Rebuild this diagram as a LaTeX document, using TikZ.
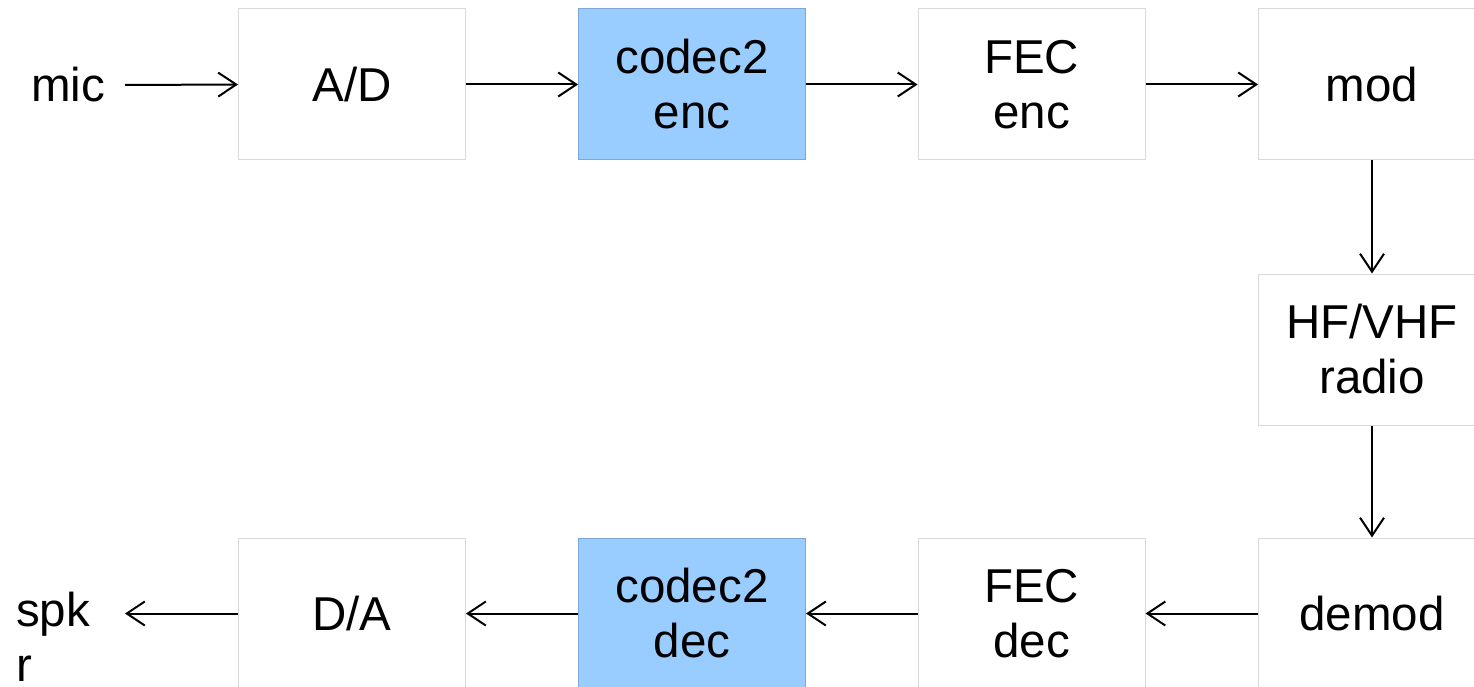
\documentclass[tikz,border=0pt]{standalone}
\usepackage{fontspec}
\setmainfont{Liberation Sans}
\usetikzlibrary{arrows.meta}
\definecolor{boxline}{HTML}{D9D9D9}
\definecolor{bluefill}{HTML}{99CCFF}
\definecolor{blueline}{HTML}{7FA7D6}
\tikzset{
  blk/.style={draw=boxline, line width=1pt, fill=white, minimum width=227pt, minimum height=151pt, inner sep=0pt, align=center, font=\fontsize{47.5}{55}\selectfont},
  hot/.style={blk, draw=blueline, fill=bluefill},
  lbl/.style={inner sep=0pt, font=\fontsize{47.5}{55}\selectfont},
  flow/.style={-{Straight Barb[length=18pt,width=24pt,line width=2pt]}, line width=2pt, black}
}
\begin{document}
\begin{tikzpicture}[x=1pt,y=-1pt]
\clip (0,0) rectangle (1474,687);
\fill[white] (0,0) rectangle (1474,687);
% top row
\node[blk] (ad) at (352,84.5) {A/D};
\node[hot] (cenc) at (692,84.5) {codec2\\enc};
\node[blk] (fenc) at (1031.5,84.5) {FEC\\enc};
\node[blk] (mod) at (1372,84.5) {mod};
% radio
\node[blk] (radio) at (1372,349.5) {HF/VHF\\radio};
% bottom row
\node[blk] (demod) at (1372,613.5) {demod};
\node[blk] (fdec) at (1031.5,613.5) {FEC\\dec};
\node[hot] (cdec) at (692,613.5) {codec2\\dec};
\node[blk] (da) at (352,613.5) {D/A};
% end labels
\node[lbl, anchor=base] (mic) at (68,102) {mic};
\node[lbl, align=left, anchor=north west] (spkr) at (16,592) {spk\\r};
\coordinate (micend) at (125,85);
\coordinate (spkend) at (125,613.5);
% connectors
\draw[flow] (micend) -- (ad.west);
\draw[flow] (ad.east) -- (cenc.west);
\draw[flow] (cenc.east) -- (fenc.west);
\draw[flow] (fenc.east) -- (mod.west);
\draw[flow] (mod.south) -- (radio.north);
\draw[flow] (radio.south) -- (demod.north);
\draw[flow] (demod.west) -- (fdec.east);
\draw[flow] (fdec.west) -- (cdec.east);
\draw[flow] (cdec.west) -- (da.east);
\draw[flow] (da.west) -- (spkend);
\end{tikzpicture}
\end{document}
